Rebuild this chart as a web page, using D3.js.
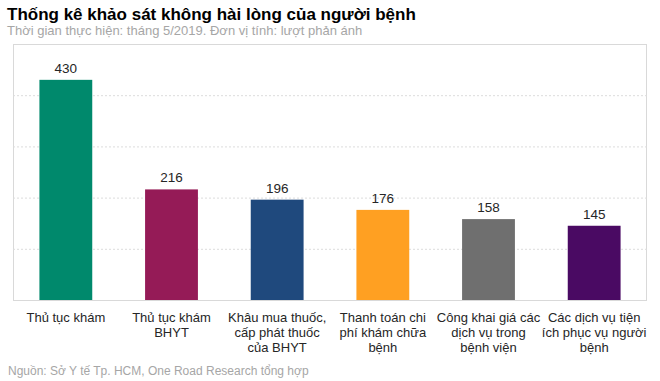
<!DOCTYPE html>
<html><head><meta charset="utf-8">
<script src="https://cdn.jsdelivr.net/npm/d3@7"></script>
<style>
body{margin:0;background:#fff;}
svg{font-family:Arial,"Liberation Sans",sans-serif;}
</style></head>
<body><svg id="c" width="660" height="381"></svg>
<script>
const title = "Thống kê khảo sát không hài lòng của người bệnh";
const subtitle = "Thời gian thực hiện: tháng 5/2019. Đơn vị tính: lượt phản ánh";
const source = "Nguồn: Sở Y tế Tp. HCM, One Road Research tổng hợp";
const categories = [
  "Thủ tục khám",
  "Thủ tục khám\nBHYT",
  "Khâu mua thuốc,\ncấp phát thuốc\ncủa BHYT",
  "Thanh toán chi\nphí khám chữa\nbệnh",
  "Công khai giá các\ndịch vụ trong\nbệnh viện",
  "Các dịch vụ tiện\ních phục vụ người\nbệnh"
];
const values = [430, 216, 196, 176, 158, 145];
const colors = ["#00896C", "#951B57", "#1F497D", "#FFA022", "#6F6F6F", "#4A0A63"];
const yTicks = [100, 200, 300, 400];

const svg = d3.select("#c");
const L = 13, R = 647, T = 44, B = 300;
const x = d3.scaleBand().domain(categories).range([L, R]).paddingInner(0.5).paddingOuter(0.25);
const y = d3.scaleLinear().domain([0, 500]).range([B, T]);

// frame
svg.append("rect").attr("x", L + 0.5).attr("y", T + 0.5).attr("width", R - L - 1).attr("height", B - T)
  .attr("fill", "none").attr("stroke", "#d9d9d9");

// gridlines
const grid = d3.axisLeft(y).tickValues(yTicks).tickSize(-(R - L)).tickFormat("");
const g = svg.append("g").attr("transform", `translate(${L},0)`).call(grid);
g.select(".domain").remove();
g.selectAll(".tick line").attr("stroke", "#dcdcdc").attr("stroke-dasharray", "2,2");

// bars
svg.selectAll("rect.bar").data(values).enter().append("rect").attr("class", "bar")
  .attr("x", (d, i) => x(categories[i]))
  .attr("y", d => y(d))
  .attr("width", x.bandwidth())
  .attr("height", d => B - y(d))
  .attr("fill", (d, i) => colors[i]);

// baseline
svg.append("line").attr("x1", L).attr("x2", R).attr("y1", B + 0.5).attr("y2", B + 0.5).attr("stroke", "#d9d9d9");

// value labels
svg.selectAll("text.val").data(values).enter().append("text").attr("class", "val")
  .attr("x", (d, i) => x(categories[i]) + x.bandwidth() / 2)
  .attr("y", d => y(d) - 7)
  .attr("text-anchor", "middle").attr("font-size", 13.5).attr("fill", "#262626")
  .text(d => d);

// category labels
const xa = d3.axisBottom(x).tickSize(0).tickFormat("");
const ag = svg.append("g").attr("transform", `translate(0,${B})`).call(xa);
ag.select(".domain").remove();
ag.selectAll(".tick").each(function(d) {
  const t = d3.select(this).append("text").attr("text-anchor", "middle")
    .attr("font-size", 13).attr("fill", "#262626");
  d.split("\n").forEach((ln, i) => {
    t.append("tspan").attr("x", 0).attr("y", 22 + i * 15).text(ln);
  });
});

// titles
svg.append("text").attr("x", 7).attr("y", 20).attr("font-size", 17).attr("font-weight", "bold")
  .attr("fill", "#000").text(title);
svg.append("text").attr("x", 7).attr("y", 35).attr("font-size", 13).attr("fill", "#a6a6a6").text(subtitle);
svg.append("text").attr("x", 8).attr("y", 375).attr("font-size", 12).attr("fill", "#a6a6a6").text(source);
</script></body></html>
